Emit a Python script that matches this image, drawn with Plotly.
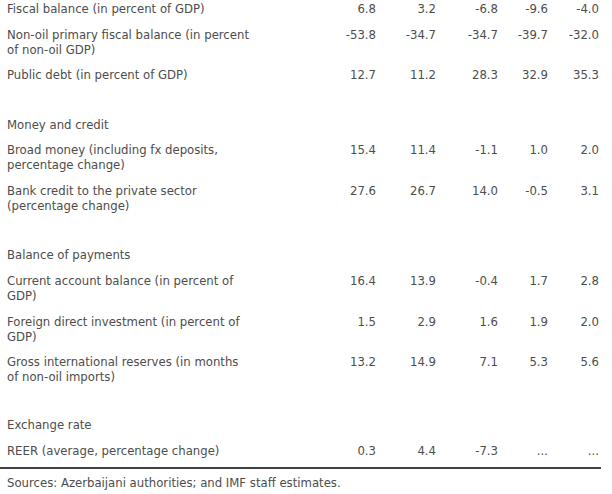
import plotly.graph_objects as go

# ---- data ----
labels = [
    "Fiscal balance (in percent of GDP)",
    "Non-oil primary fiscal balance (in percent<br>of non-oil GDP)",
    "Public debt (in percent of GDP)",
    "Money and credit",
    "Broad money (including fx deposits,<br>percentage change)",
    "Bank credit to the private sector<br>(percentage change)",
    "Balance of payments",
    "Current account balance (in percent of<br>GDP)",
    "Foreign direct investment (in percent of<br>GDP)",
    "Gross international reserves (in months<br>of non-oil imports)",
    "Exchange rate",
    "REER (average, percentage change)",
]
col1 = [6.8, -53.8, 12.7, None, 15.4, 27.6, None, 16.4, 1.5, 13.2, None, 0.3]
col2 = [3.2, -34.7, 11.2, None, 11.4, 26.7, None, 13.9, 2.9, 14.9, None, 4.4]
col3 = [-6.8, -34.7, 28.3, None, -1.1, 14.0, None, -0.4, 1.6, 7.1, None, -7.3]
col4 = [-9.6, -39.7, 32.9, None, 1.0, -0.5, None, 1.7, 1.9, 5.3, None, "..."]
col5 = [-4.0, -32.0, 35.3, None, 2.0, 3.1, None, 2.8, 2.0, 5.6, None, "..."]
source_note = "Sources: Azerbaijani authorities; and IMF staff estimates."

# ---- layout (pixel positions) ----
row_y = [10.5, 36.5, 76.5, 126.5, 151.5, 192.5, 256.5, 282.5, 323.5, 363.5, 426.5, 452.5]
col_x = [376, 436, 498, 548, 599]
line_gap = 14.5
FONT = "DejaVu Sans"
FS = 11.7
COLOR = "#4d4d4d"

fig = go.Figure()

lab_y = [y + (line_gap / 2 if "<br>" in l else 0) for y, l in zip(row_y, labels)]
fig.add_trace(go.Scatter(
    x=[7] * len(labels), y=lab_y, text=labels, mode="text",
    textposition="middle right", cliponaxis=False,
    textfont=dict(family=FONT, size=FS, color=COLOR),
    hoverinfo="skip", showlegend=False,
))

def fmt(v):
    if v is None:
        return ""
    if isinstance(v, str):
        return v
    return f"{v:.1f}"

for cx, col in zip(col_x, [col1, col2, col3, col4, col5]):
    xs, ys, ts = [], [], []
    for y, v in zip(row_y, col):
        if v is None:
            continue
        xs.append(cx); ys.append(y); ts.append(fmt(v))
    fig.add_trace(go.Scatter(
        x=xs, y=ys, text=ts, mode="text", textposition="middle left",
        cliponaxis=False,
        textfont=dict(family=FONT, size=FS, color=COLOR),
        hoverinfo="skip", showlegend=False,
    ))

fig.add_trace(go.Scatter(
    x=[7], y=[484.5], text=[source_note], mode="text",
    textposition="middle right", cliponaxis=False,
    textfont=dict(family=FONT, size=FS, color=COLOR),
    hoverinfo="skip", showlegend=False,
))

fig.add_shape(type="line", xref="x", yref="y", x0=0, x1=601, y0=468, y1=468,
              line=dict(color="black", width=1.3))

fig.update_layout(
    width=612, height=494,
    margin=dict(l=0, r=0, t=0, b=0),
    paper_bgcolor="white", plot_bgcolor="white",
    xaxis=dict(range=[0, 612], visible=False, fixedrange=True),
    yaxis=dict(range=[494, 0], visible=False, fixedrange=True),
)

fig.write_html("out.html", config={"displayModeBar": False},
               post_script="document.body.style.margin='0';document.body.style.overflow='hidden';")
